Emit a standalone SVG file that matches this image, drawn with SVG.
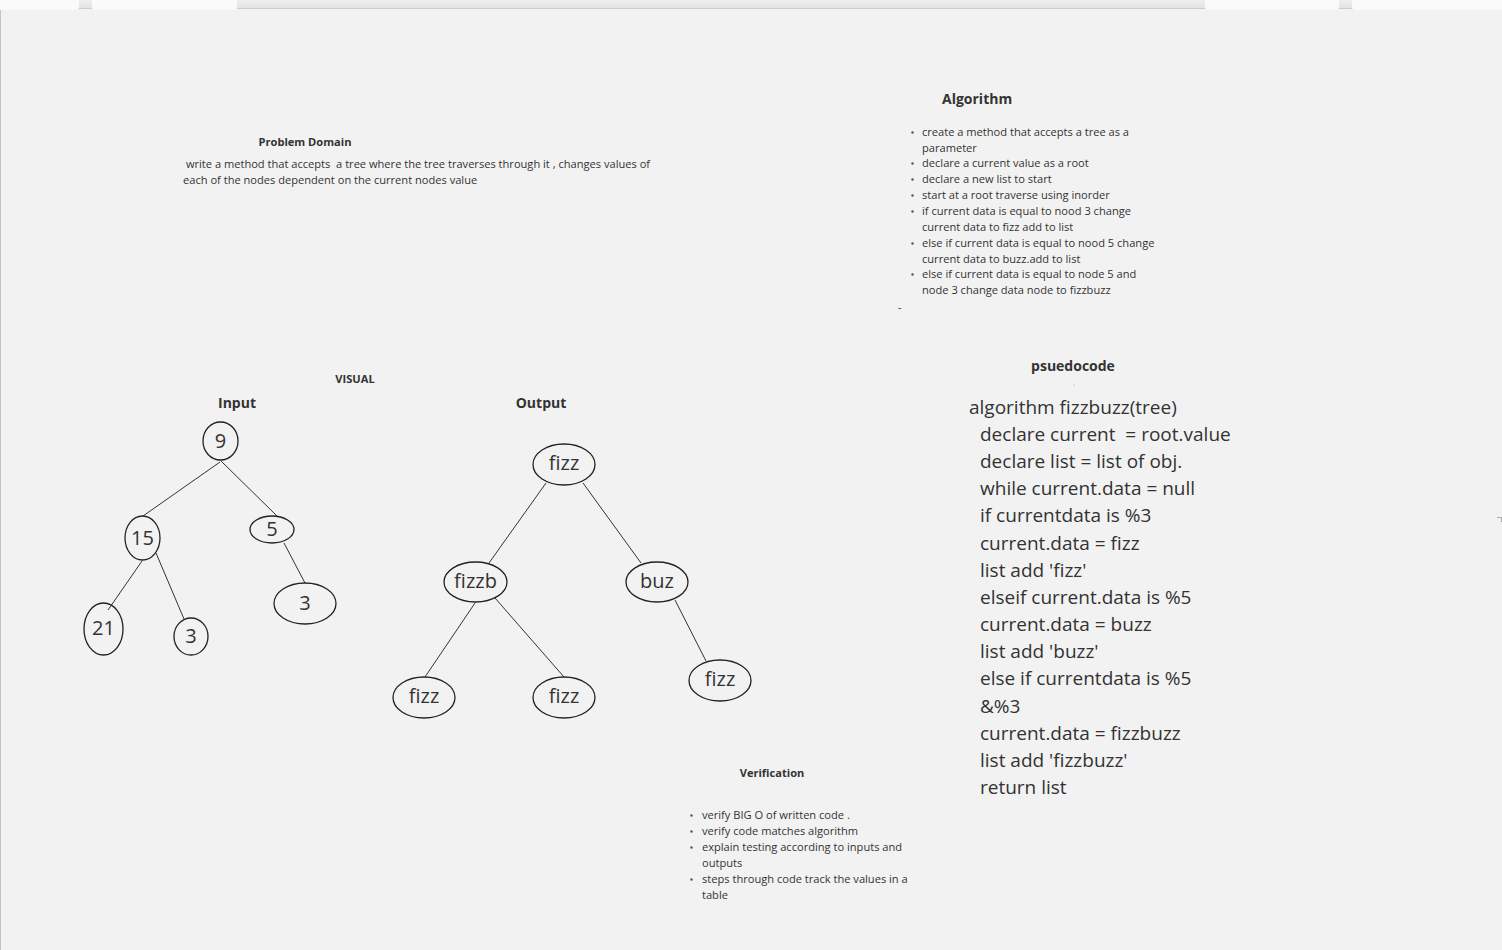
<svg xmlns="http://www.w3.org/2000/svg" width="1502" height="950" viewBox="0 0 1502 950">
<defs>
<linearGradient id="bar" x1="0" y1="0" x2="0" y2="1">
<stop offset="0" stop-color="#efefef"/>
<stop offset="1" stop-color="#e2e2e2"/>
</linearGradient>
</defs>
<style>
.t{font-family:"Open Sans","Noto Sans","Liberation Sans",sans-serif;fill:#333;white-space:pre}
.h{font-weight:bold;fill:#333}
.s{font-size:11.1px}
.p{font-size:11.1px}
.n{font-size:20px;text-anchor:middle}
.c{font-size:19px}
.e{fill:none;stroke:#222;stroke-width:1.3}
.l{stroke:#333;stroke-width:1;fill:none}
.b{fill:#555}
</style>
<rect width="1502" height="950" fill="#f2f2f2"/>
<g id="topbar">
<rect x="0" y="0" width="1502" height="9" fill="url(#bar)"/>
<line x1="0" y1="8.5" x2="1502" y2="8.5" stroke="#cdcdcd" stroke-width="1"/>
<path d="M0 0H79V7Q79 10 76 10H0Z" fill="#fafafa"/>
<path d="M92 0H237V7Q237 10 234 10H95Q92 10 92 7Z" fill="#fafafa"/>
<path d="M1205 0H1339V7Q1339 10 1336 10H1208Q1205 10 1205 7Z" fill="#fafafa"/>
<path d="M1352 0H1502V10H1355Q1352 10 1352 7Z" fill="#fafafa"/>
<line x1="0.5" y1="10" x2="0.5" y2="950" stroke="#c4c4c4" stroke-width="1"/>
<path d="M1497 517.5H1502M1501.5 517.5V522" stroke="#aaa" stroke-width="1" fill="none"/>
</g>

<g id="problem-domain" class="t">
<text x="305" y="146" class="t h p" text-anchor="middle">Problem Domain</text>
<text x="183" y="168" class="t p" xml:space="preserve"> write a method that accepts  a tree where the tree traverses through it , changes values of</text>
<text x="183" y="184" class="t p">each of the nodes dependent on the current nodes value</text>
</g>

<g id="algorithm" class="t">
<text x="942" y="104" class="t h" font-size="14">Algorithm</text>
<g class="s">
<text class="t s" x="922" y="136">create a method that accepts a tree as a</text>
<text class="t s" x="922" y="152">parameter</text>
<text class="t s" x="922" y="167">declare a current value as a root</text>
<text class="t s" x="922" y="183">declare a new list to start</text>
<text class="t s" x="922" y="199">start at a root traverse using inorder</text>
<text class="t s" x="922" y="215">if current data is equal to nood 3 change</text>
<text class="t s" x="922" y="231">current data to fizz add to list</text>
<text class="t s" x="922" y="247">else if current data is equal to nood 5 change</text>
<text class="t s" x="922" y="263">current data to buzz.add to list</text>
<text class="t s" x="922" y="278">else if current data is equal to node 5 and</text>
<text class="t s" x="922" y="294">node 3 change data node to fizzbuzz</text>
<text class="t s" x="898" y="311">-</text>
</g>
<circle class="b" cx="912.5" cy="132.5" r="1.2"/>
<circle class="b" cx="912.5" cy="163.5" r="1.2"/>
<circle class="b" cx="912.5" cy="179.5" r="1.2"/>
<circle class="b" cx="912.5" cy="195.5" r="1.2"/>
<circle class="b" cx="912.5" cy="211.5" r="1.2"/>
<circle class="b" cx="912.5" cy="243.5" r="1.2"/>
<circle class="b" cx="912.5" cy="274.5" r="1.2"/>
</g>

<g id="visual-labels" class="t">
<text x="355" y="383" class="t h p" text-anchor="middle">VISUAL</text>
<text x="237" y="408" class="t h" font-size="14" text-anchor="middle">Input</text>
<text x="541" y="408" class="t h" font-size="14" text-anchor="middle">Output</text>
</g>

<g id="connectors" class="l">
<line x1="220" y1="462" x2="143" y2="516"/>
<line x1="221" y1="461" x2="277" y2="516"/>
<line x1="142" y1="561" x2="108" y2="610"/>
<line x1="156" y1="553" x2="184" y2="619"/>
<line x1="284" y1="543" x2="305" y2="583"/>
<line x1="546" y1="483" x2="489" y2="563"/>
<line x1="583" y1="483" x2="641" y2="563"/>
<line x1="475" y1="603" x2="425" y2="677"/>
<line x1="495" y1="598" x2="564" y2="677"/>
<line x1="675" y1="600" x2="706" y2="661"/>
</g>

<g id="in-9"><ellipse class="e" cx="220.5" cy="441" rx="17.5" ry="19"/><text class="t n" x="220.5" y="448">9</text></g>
<g id="in-15"><ellipse class="e" cx="142.5" cy="538" rx="17.5" ry="22"/><text class="t n" x="142.5" y="545">15</text></g>
<g id="in-5"><ellipse class="e" cx="272" cy="529.5" rx="22" ry="13.5"/><text class="t n" x="272" y="535.5">5</text></g>
<g id="in-3r"><ellipse class="e" cx="305" cy="603.5" rx="31" ry="20.5"/><text class="t n" x="305" y="609.5">3</text></g>
<g id="in-21"><ellipse class="e" cx="103.5" cy="629" rx="19.5" ry="26"/><text class="t n" x="103.5" y="635">21</text></g>
<g id="in-3l"><ellipse class="e" cx="191" cy="636.5" rx="17" ry="18.5"/><text class="t n" x="191" y="642.5">3</text></g>

<g id="out-root"><ellipse class="e" cx="564" cy="464.5" rx="31" ry="20.5"/><text class="t n" x="564" y="470">fizz</text></g>
<g id="out-fizzb"><ellipse class="e" cx="475.5" cy="582" rx="31.5" ry="20"/><text class="t n" x="475.5" y="587.5">fizzb</text></g>
<g id="out-buz"><ellipse class="e" cx="657" cy="582" rx="31" ry="20"/><text class="t n" x="657" y="587.5">buz</text></g>
<g id="out-fizz-l"><ellipse class="e" cx="424" cy="697.5" rx="31" ry="20.5"/><text class="t n" x="424" y="703">fizz</text></g>
<g id="out-fizz-m"><ellipse class="e" cx="564" cy="697.5" rx="31" ry="20.5"/><text class="t n" x="564" y="703">fizz</text></g>
<g id="out-fizz-r"><ellipse class="e" cx="720" cy="680.5" rx="31" ry="20.5"/><text class="t n" x="720" y="686">fizz</text></g>

<g id="pseudocode" class="t">
<text x="1073" y="371" class="t h" font-size="14" text-anchor="middle">psuedocode</text>
<circle cx="1074" cy="385" r="0.6" fill="#999"/>
<text class="t c" x="969" y="413.5">algorithm fizzbuzz(tree)</text>
<text class="t c" x="980" y="440.5" xml:space="preserve">declare current  = root.value</text>
<text class="t c" x="980" y="467.5">declare list = list of obj.</text>
<text class="t c" x="980" y="495">while current.data = null</text>
<text class="t c" x="980" y="522">if currentdata is %3</text>
<text class="t c" x="980" y="549.5">current.data = fizz</text>
<text class="t c" x="980" y="576.5">list add 'fizz'</text>
<text class="t c" x="980" y="603.5">elseif current.data is %5</text>
<text class="t c" x="980" y="631">current.data = buzz</text>
<text class="t c" x="980" y="658">list add 'buzz'</text>
<text class="t c" x="980" y="685">else if currentdata is %5</text>
<text class="t c" x="980" y="712.5">&amp;%3</text>
<text class="t c" x="980" y="739.5">current.data = fizzbuzz</text>
<text class="t c" x="980" y="766.5">list add 'fizzbuzz'</text>
<text class="t c" x="980" y="794">return list</text>
</g>

<g id="verification" class="t">
<text x="772" y="777" class="t h p" text-anchor="middle">Verification</text>
<text class="t s" x="702" y="819">verify BIG O of written code .</text>
<text class="t s" x="702" y="835">verify code matches algorithm</text>
<text class="t s" x="702" y="851">explain testing according to inputs and</text>
<text class="t s" x="702" y="867">outputs</text>
<text class="t s" x="702" y="883">steps through code track the values in a</text>
<text class="t s" x="702" y="899">table</text>
<circle class="b" cx="691.5" cy="815.5" r="1.2"/>
<circle class="b" cx="691.5" cy="831.5" r="1.2"/>
<circle class="b" cx="691.5" cy="847.5" r="1.2"/>
<circle class="b" cx="691.5" cy="879.5" r="1.2"/>
</g>
</svg>
